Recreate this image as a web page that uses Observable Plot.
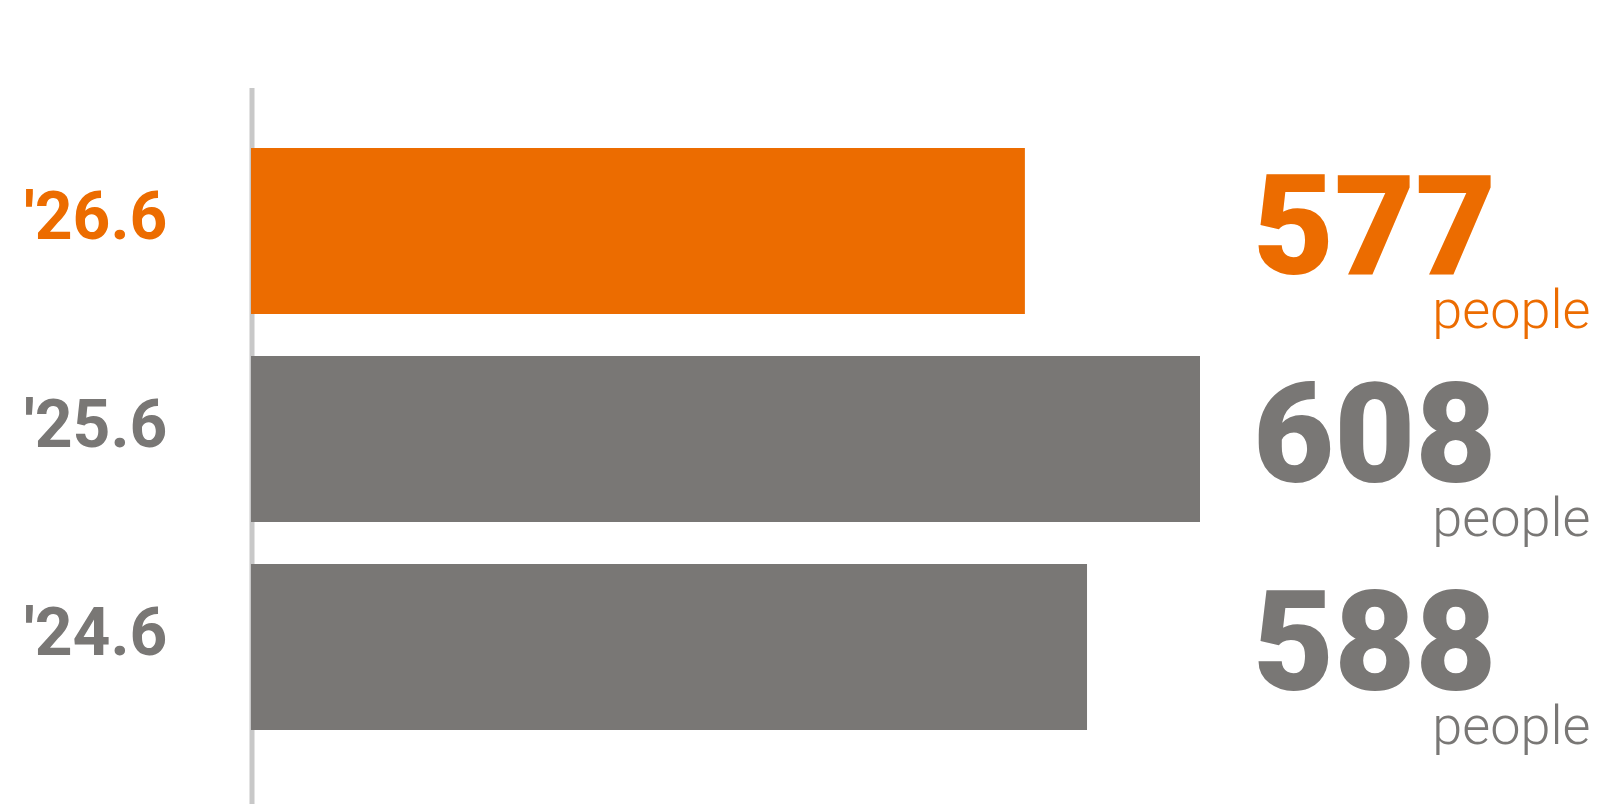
<!DOCTYPE html>
<html>
<head>
<meta charset="utf-8">
<script src="https://cdn.jsdelivr.net/npm/d3@7"></script>
<script src="https://cdn.jsdelivr.net/npm/@observablehq/plot@0.6"></script>
<style>
  html, body { margin: 0; padding: 0; background: #ffffff; }
  #chart svg { display: block; }
</style>
</head>
<body>
<div id="chart"></div>
<script>
// ---- data ----
const periods = ["'26.6", "'25.6", "'24.6"];
const counts = [577, 608, 588];
const unitLabel = "people";
const highlightPeriod = "'26.6";
const baseline = 440;

// ---- styles ----
const ORANGE = "#ec6c00";
const GRAY = "#797775";
const RULE = "#c8c8c8";

const rows = periods.map((p, i) => ({period: p, count: counts[i], unit: unitLabel}));
const colorOf = d => (d.period === highlightPeriod ? ORANGE : GRAY);

const chart = Plot.plot({
  width: 1617,
  height: 804,
  marginTop: 106,
  marginBottom: 32,
  marginLeft: 251,
  marginRight: 417,
  style: {background: "#ffffff", fontFamily: "Roboto"},
  x: {domain: [baseline, d3.max(counts)], axis: null},
  y: {domain: periods, padding: 0.2, axis: null},
  marks: [
    Plot.ruleX([baseline], {stroke: RULE, strokeWidth: 5, dx: 0.5, insetTop: -18, insetBottom: -32}),
    Plot.barX(rows, {y: "period", x1: baseline, x2: "count", fill: colorOf}),
    Plot.text(rows, {
      y: "period", text: "period", frameAnchor: "left", textAnchor: "end",
      lineAnchor: "bottom", dx: -84, dy: 7,
      fontSize: 66, fontWeight: 700, fontFamily: "Roboto", fill: colorOf
    }),
    Plot.text(rows, {
      y: "period", text: d => String(d.count), frameAnchor: "right", textAnchor: "end",
      lineAnchor: "bottom", dx: 296, dy: 42,
      fontSize: 140, fontWeight: 900, fontFamily: "Roboto", fill: colorOf
    }),
    Plot.text(rows, {
      y: "period", text: "unit", frameAnchor: "right", textAnchor: "end",
      lineAnchor: "bottom", dx: 390, dy: 96,
      fontSize: 54, fontWeight: 300, fontFamily: "Roboto", fill: colorOf
    })
  ]
});

document.getElementById("chart").appendChild(chart);
</script>
</body>
</html>
